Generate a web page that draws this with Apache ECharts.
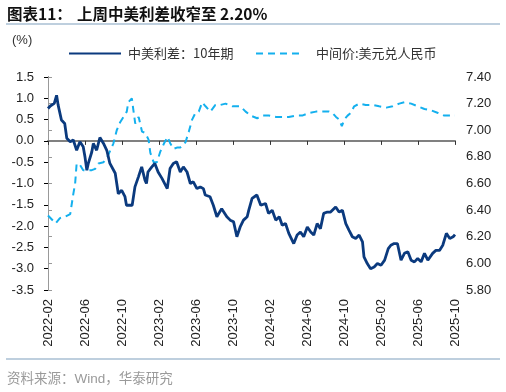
<!DOCTYPE html>
<html>
<head>
<meta charset="utf-8">
<script src="https://cdn.jsdelivr.net/npm/echarts@6/dist/echarts.min.js"></script>
<style>
html,body{margin:0;padding:0;background:#fff;}
#chart{width:506px;height:392px;}
</style>
</head>
<body>
<div id="chart"></div>
<script>
// ---- Data ----
const xTickLabels = ['2022-02','2022-06','2022-10','2023-02','2023-06','2023-10','2024-02','2024-06','2024-10','2025-02','2025-06','2025-10'];

const spreadDates = ['2022-02-01','2022-02-08','2022-02-14','2022-02-20','2022-02-27','2022-03-04','2022-03-15','2022-03-26','2022-04-02','2022-04-13','2022-04-23','2022-05-04','2022-05-15','2022-05-26','2022-06-01','2022-06-07','2022-06-12','2022-06-23','2022-06-28','2022-07-09','2022-07-20','2022-08-01','2022-08-12','2022-08-22','2022-09-09','2022-09-19','2022-09-30','2022-10-11','2022-10-16','2022-11-04','2022-11-13','2022-11-24','2022-12-05','2022-12-16','2022-12-21','2022-12-26','2023-01-08','2023-01-18','2023-01-29','2023-02-10','2023-02-26','2023-03-07','2023-03-18','2023-03-29','2023-04-10','2023-04-20','2023-05-02','2023-05-13','2023-05-23','2023-06-04','2023-06-15','2023-06-25','2023-07-01','2023-07-17','2023-07-28','2023-08-09','2023-08-25','2023-09-11','2023-09-22','2023-10-03','2023-10-14','2023-10-25','2023-11-05','2023-11-17','2023-11-22','2023-12-03','2023-12-19','2024-01-01','2024-01-17','2024-01-27','2024-02-08','2024-02-19','2024-03-01','2024-03-11','2024-03-22','2024-04-02','2024-04-18','2024-04-29','2024-05-10','2024-05-21','2024-06-02','2024-06-13','2024-06-23','2024-07-04','2024-07-15','2024-07-26','2024-08-07','2024-08-18','2024-09-04','2024-09-15','2024-09-26','2024-10-07','2024-10-18','2024-10-29','2024-11-09','2024-11-20','2024-12-01','2024-12-06','2024-12-17','2024-12-28','2025-01-09','2025-01-20','2025-02-01','2025-02-12','2025-02-23','2025-03-03','2025-03-14','2025-03-25','2025-04-06','2025-04-17','2025-04-28','2025-05-09','2025-05-20','2025-05-31','2025-06-11','2025-06-22','2025-07-03','2025-07-19','2025-07-30','2025-08-11','2025-08-22','2025-09-03','2025-09-14','2025-09-25','2025-10-01'];
const spreadValues = [0.76,0.82,0.78,0.88,1.07,0.84,0.49,0.41,0.06,-0.02,0.02,-0.22,-0.02,-0.14,-0.38,-0.69,-0.52,-0.26,-0.06,-0.22,0.08,-0.06,-0.22,-0.52,-0.76,-1.24,-1.16,-1.31,-1.51,-1.51,-1.08,-0.85,-0.61,-0.92,-1.00,-0.73,-0.61,-0.53,-0.73,-0.88,-1.12,-0.65,-0.53,-0.49,-0.73,-0.61,-0.73,-1.00,-0.96,-1.12,-1.08,-1.12,-1.27,-1.31,-1.51,-1.78,-1.59,-1.78,-1.86,-1.90,-2.25,-2.02,-1.86,-1.78,-1.63,-1.35,-1.27,-1.51,-1.47,-1.70,-1.63,-1.86,-1.78,-1.98,-1.94,-2.17,-2.41,-2.21,-2.14,-2.25,-2.02,-2.14,-2.21,-1.94,-2.06,-1.70,-1.67,-1.67,-1.55,-1.67,-1.63,-1.94,-2.10,-2.25,-2.29,-2.21,-2.37,-2.72,-2.88,-3.00,-2.96,-2.88,-2.92,-2.80,-2.53,-2.45,-2.41,-2.41,-2.80,-2.64,-2.60,-2.80,-2.84,-2.76,-2.84,-2.64,-2.80,-2.64,-2.57,-2.57,-2.45,-2.17,-2.29,-2.25,-2.20];

const fxDates = ['2022-02-01','2022-02-24','2022-03-10','2022-03-26','2022-04-13','2022-04-23','2022-04-29','2022-05-04','2022-05-15','2022-05-26','2022-06-07','2022-06-23','2022-07-04','2022-07-15','2022-08-01','2022-08-12','2022-08-22','2022-09-03','2022-09-14','2022-09-25','2022-10-06','2022-10-17','2022-10-22','2022-11-03','2022-11-08','2022-11-14','2022-11-25','2022-12-06','2022-12-17','2022-12-28','2023-01-03','2023-01-14','2023-01-25','2023-02-05','2023-02-16','2023-02-27','2023-03-08','2023-03-19','2023-03-30','2023-04-10','2023-04-27','2023-05-08','2023-05-19','2023-05-30','2023-06-10','2023-06-21','2023-07-02','2023-07-18','2023-08-04','2023-08-21','2023-09-07','2023-09-29','2023-10-26','2023-11-12','2023-11-28','2023-12-20','2024-01-06','2024-01-28','2024-02-20','2024-03-11','2024-04-02','2024-04-24','2024-05-16','2024-06-08','2024-06-30','2024-07-22','2024-08-13','2024-08-24','2024-09-05','2024-09-16','2024-09-24','2024-10-02','2024-10-13','2024-10-24','2024-11-04','2024-11-21','2024-12-12','2025-01-04','2025-01-26','2025-02-17','2025-03-09','2025-03-31','2025-04-17','2025-05-09','2025-05-31','2025-06-22','2025-07-14','2025-08-06','2025-08-27','2025-09-19','2025-10-01'];
const fxValues = [6.36,6.30,6.34,6.35,6.37,6.52,6.60,6.75,6.74,6.70,6.70,6.70,6.71,6.75,6.76,6.79,6.84,6.90,7.00,7.06,7.10,7.14,7.21,7.24,7.15,7.05,7.10,6.99,6.98,6.93,6.83,6.76,6.76,6.84,6.90,6.95,6.90,6.86,6.87,6.87,6.91,6.99,7.08,7.13,7.14,7.21,7.18,7.14,7.19,7.19,7.20,7.18,7.18,7.14,7.11,7.09,7.11,7.11,7.10,7.10,7.10,7.11,7.11,7.13,7.14,7.14,7.14,7.13,7.10,7.08,7.03,7.08,7.11,7.13,7.18,7.20,7.19,7.19,7.18,7.17,7.18,7.20,7.21,7.20,7.18,7.16,7.15,7.13,7.11,7.11,7.11];

const spreadName = '中美利差：10年期';
const fxName = '中间价:美元兑人民币';

// ---- helpers ----
function monthsFromStart(s) {
  const [y, m, d] = s.split('-').map(Number);
  const dim = new Date(y, m, 0).getDate();
  return (y - 2022) * 12 + (m - 2) + (d - 1) / dim;
}
const spreadData = spreadDates.map((d, i) => [monthsFromStart(d), spreadValues[i]]);
const fxData = fxDates.map((d, i) => [monthsFromStart(d), fxValues[i]]);

const FONT = '"Liberation Sans", Arial, "Noto Sans CJK SC", sans-serif';
const CJK = '"Noto Sans CJK SC", "Liberation Sans", sans-serif';
const NAVY = '#0b3a7e';
const SKY = '#14b0ee';

const chart = echarts.init(document.getElementById('chart'), null, {renderer: 'canvas'});
chart.setOption({
  animation: false,
  backgroundColor: '#fff',
  grid: {left: 48, right: 51, top: 77, bottom: 102, containLabel: false},
  legend: [
    {data: [spreadName], left: 68, top: 47, padding: 0, itemWidth: 52, itemHeight: 14,
     itemStyle: {opacity: 0},
     textStyle: {fontSize: 13, color: '#333', fontFamily: CJK, padding: [0, 0, 0, 2]}},
    {data: [fxName], left: 255, top: 47, padding: 0, itemWidth: 46, itemHeight: 14,
     itemStyle: {opacity: 0},
     textStyle: {fontSize: 13, color: '#333', fontFamily: CJK, padding: [0, 0, 0, 9]}}
  ],
  xAxis: [
    {
      type: 'value', min: 0, max: 44, interval: 4, position: 'bottom',
      axisLine: {show: true, onZero: true, onZeroAxisIndex: 0, lineStyle: {color: '#808080', width: 2}},
      axisTick: {show: true, inside: false, length: 4, lineStyle: {color: '#333', width: 1}},
      axisLabel: {show: false},
      splitLine: {show: false}
    },
    {
      type: 'value', min: 0, max: 44, interval: 4, position: 'bottom',
      axisLine: {show: false, onZero: false},
      axisTick: {show: false},
      axisLabel: {
        show: true, rotate: 90, margin: 9, fontSize: 13, color: '#222', fontFamily: FONT,
        formatter: v => xTickLabels[Math.round(v / 4)] || ''
      },
      splitLine: {show: false}
    }
  ],
  yAxis: [
    {
      type: 'value', position: 'left', min: -3.5, max: 1.5, interval: 0.5,
      axisLine: {show: true, lineStyle: {color: '#000', width: 1}},
      axisTick: {show: true, length: 4, lineStyle: {color: '#000'}},
      axisLabel: {fontSize: 13, color: '#222', fontFamily: FONT, margin: 14, formatter: v => v.toFixed(1)},
      splitLine: {show: false}
    },
    {
      type: 'value', position: 'right', min: 5.8, max: 7.4, interval: 0.2, alignTicks: false,
      axisLine: {show: true, lineStyle: {color: '#999', width: 1}},
      axisTick: {show: true, length: 4, lineStyle: {color: '#999'}},
      axisLabel: {fontSize: 13, color: '#222', fontFamily: FONT, margin: 11, formatter: v => v.toFixed(2)},
      splitLine: {show: false}
    }
  ],
  series: [
    {
      name: fxName, type: 'line', xAxisIndex: 0, yAxisIndex: 1, data: fxData,
      symbol: 'none', showSymbol: false, z: 2,
      lineStyle: {color: SKY, width: 2, type: [7, 5]}, itemStyle: {color: SKY}
    },
    {
      name: spreadName, type: 'line', xAxisIndex: 0, yAxisIndex: 0, data: spreadData,
      symbol: 'none', showSymbol: false, z: 3,
      lineStyle: {color: NAVY, width: 2.8}, itemStyle: {color: NAVY}
    }
  ],
  graphic: [
    {type: 'text', left: 7, top: 6, style: {text: '图表11：', font: 'bold 15.5px ' + CJK, fill: '#111'}},
    {type: 'text', left: 77, top: 6, style: {text: '上周中美利差收窄至 2.20%', font: 'bold 15.5px ' + CJK, fill: '#111'}},
    {type: 'line', shape: {x1: 6, y1: 24, x2: 500, y2: 24}, style: {stroke: '#a9bfd3', lineWidth: 1.5}},
    {type: 'text', left: 12, top: 34, style: {text: '(%)', font: '13px ' + FONT, fill: '#333'}},
    {type: 'line', shape: {x1: 6, y1: 359, x2: 500, y2: 359}, style: {stroke: '#a9bfd3', lineWidth: 1.5}},
    {type: 'text', left: 7, top: 373, style: {text: '资料来源：Wind，华泰研究', font: '13.5px ' + FONT, fill: '#9a9a9a'}}
  ]
});
</script>
</body>
</html>
